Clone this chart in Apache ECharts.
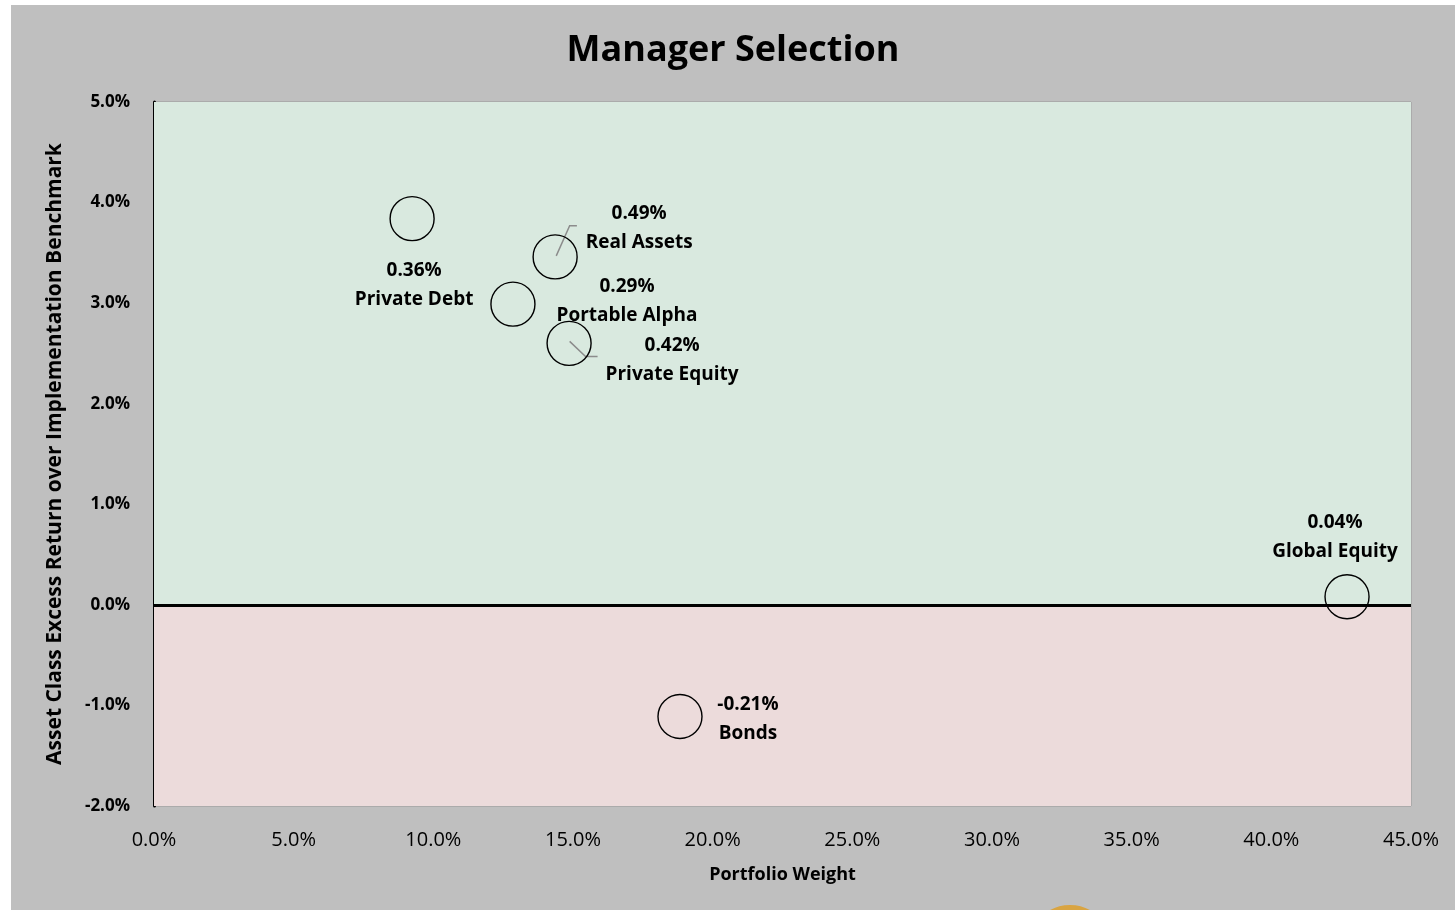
<!DOCTYPE html>
<html>
<head>
<meta charset="utf-8">
<script src="https://cdn.jsdelivr.net/npm/echarts@6/dist/echarts.min.js"></script>
<style>
  html, body { margin: 0; padding: 0; background: #ffffff; }
  #chart { position: absolute; left: 11px; top: 5px; width: 1444px; height: 905px; }
</style>
</head>
<body>
<div id="chart"></div>
<script>
// asset classes, portfolio weight (%), excess return (%), contribution label
const assetNames = ['Private Debt', 'Real Assets', 'Portable Alpha', 'Private Equity', 'Global Equity', 'Bonds'];
const weights = [9.24, 14.36, 12.85, 14.86, 42.71, 18.83];
const excessReturns = [3.84, 3.46, 2.99, 2.60, 0.08, -1.11];
const contributions = ['0.36%', '0.49%', '0.29%', '0.42%', '0.04%', '-0.21%'];
// label offsets (px) from the bubble centre
const labelOffsets = [[2, 66], [84, -29], [114, -3], [103, 17], [-12, -60], [68, 3]];

const font = '"Open Sans", "Noto Sans", sans-serif';

const chart = echarts.init(document.getElementById('chart'));

const labelText = {
  show: true,
  position: 'inside',
  align: 'center',
  verticalAlign: 'middle',
  lineHeight: 29,
  fontFamily: font,
  fontSize: 19,
  fontWeight: 'bold',
  color: '#000'
};

const points = assetNames.map((name, i) => ({
  name: name,
  value: [weights[i], excessReturns[i]],
  label: Object.assign({}, labelText, {
    formatter: contributions[i] + '\n' + name,
    offset: labelOffsets[i]
  })
}));

const option = {
  backgroundColor: '#bfbfbf',
  animation: false,
  title: {
    text: 'Manager Selection',
    left: 'center',
    top: 23,
    textStyle: { fontFamily: font, fontSize: 36, fontWeight: 'bold', color: '#000' }
  },
  grid: { left: 143, right: 44, top: 97, bottom: 104 },
  xAxis: {
    type: 'value',
    min: 0,
    max: 45,
    interval: 5,
    name: 'Portfolio Weight',
    nameLocation: 'middle',
    nameGap: 60,
    nameTextStyle: { fontFamily: font, fontSize: 18, fontWeight: 'bold', color: '#000' },
    axisLine: { show: false },
    axisTick: { show: false },
    axisLabel: {
      fontFamily: font, fontSize: 20, color: '#000', margin: 24,
      formatter: v => v.toFixed(1) + '%'
    },
    splitLine: { lineStyle: { color: 'rgba(0,0,0,0.1)', width: 2 } }
  },
  yAxis: {
    type: 'value',
    min: -2,
    max: 5,
    interval: 1,
    name: 'Asset Class Excess Return over Implementation Benchmark',
    nameLocation: 'middle',
    nameGap: 88,
    nameTextStyle: { fontFamily: font, fontSize: 21, fontWeight: 'bold', color: '#000' },
    axisLine: { show: true, lineStyle: { color: '#000', width: 3 } },
    axisTick: { show: false },
    axisLabel: {
      fontFamily: font, fontSize: 17, fontWeight: 'bold', color: '#000', margin: 24,
      formatter: v => v.toFixed(1) + '%'
    },
    splitLine: { lineStyle: { color: 'rgba(0,0,0,0.1)', width: 2 } }
  },
  series: [{
    type: 'scatter',
    data: points,
    symbol: 'circle',
    symbolSize: 44,
    itemStyle: { color: 'rgba(0,0,0,0)', borderColor: '#000', borderWidth: 1.4, opacity: 1 },
    label: labelText,
    markArea: {
      silent: true,
      data: [
        [{ yAxis: 0, itemStyle: { color: '#d9e9df' } }, { yAxis: 5 }],
        [{ yAxis: -2, itemStyle: { color: '#ecdbdb' } }, { yAxis: 0 }]
      ]
    },
    markLine: {
      silent: true,
      symbol: 'none',
      label: { show: false },
      lineStyle: { color: '#000', width: 3, type: 'solid' },
      data: [{ yAxis: 0 }]
    },
    z: 3
  }, {
    // leader lines for the two labels pulled away from their bubbles
    type: 'lines',
    coordinateSystem: 'cartesian2d',
    polyline: true,
    silent: true,
    lineStyle: { color: '#8c8c8c', width: 1.5, opacity: 1 },
    data: [
      { coords: [[14.40, 3.47], [14.88, 3.77], [15.14, 3.77]] },
      { coords: [[14.88, 2.62], [15.45, 2.47], [15.88, 2.47]] }
    ]
  }],
  graphic: [{
    type: 'ellipse',
    shape: { cx: 1059, cy: 930, rx: 36, ry: 30 },
    style: { fill: '#d9a441' },
    z: 10
  }]
};

chart.setOption(option);
window.addEventListener('resize', () => chart.resize());
</script>
</body>
</html>
